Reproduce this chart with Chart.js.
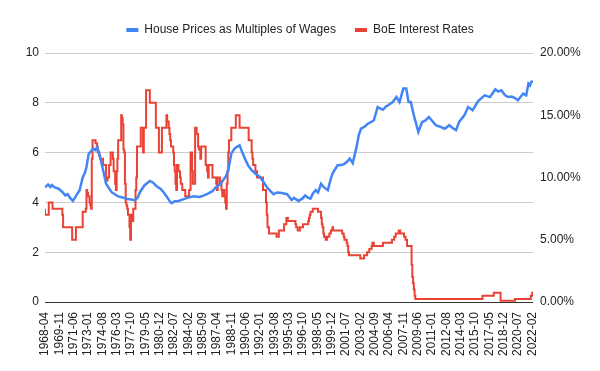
<!DOCTYPE html>
<html>
<head>
<meta charset="utf-8">
<script src="https://cdn.jsdelivr.net/npm/chart.js@4.4.1/dist/chart.umd.min.js"></script>
<style>
    body { margin: 0; background: #fff; }
</style>
</head>
<body>
<canvas id="grafico" width="600" height="371"></canvas>
<script>
// Tick labels shown on the x axis (every 19th month)
const tickLabels = ['1968-04', '1969-11', '1971-06', '1973-01', '1974-08', '1976-03', '1977-10',
    '1979-05', '1980-12', '1982-07', '1984-02', '1985-09', '1987-04', '1988-11', '1990-06',
    '1992-01', '1993-08', '1995-03', '1996-10', '1998-05', '1999-12', '2001-07', '2003-02',
    '2004-09', '2006-04', '2007-11', '2009-06', '2011-01', '2012-08', '2014-03', '2015-10',
    '2017-05', '2018-12', '2020-07', '2022-02'];
const firstMonth = '1968-04';
const lastMonth = '2022-03';

// House prices as multiples of wages
const priceDates = ['1968-04', '1968-08', '1968-11', '1969-01', '1969-05', '1969-10', '1970-02', '1970-07',
    '1970-10', '1971-01', '1971-05', '1971-08', '1971-10', '1972-02', '1972-06', '1972-09', '1972-11',
    '1973-02', '1973-05', '1973-08', '1973-11', '1974-01', '1974-03', '1974-05', '1974-09', '1975-01',
    '1975-08', '1976-01', '1976-05', '1976-11', '1977-04', '1977-10', '1978-03', '1978-07', '1978-10',
    '1979-04', '1979-11', '1980-03', '1980-08', '1981-01', '1981-05', '1981-09', '1982-02', '1982-04',
    '1982-08', '1983-01', '1983-07', '1984-02', '1984-09', '1985-05', '1985-11', '1986-04', '1986-10',
    '1987-03', '1987-08', '1987-12', '1988-04', '1988-07', '1988-11', '1989-03', '1989-06', '1989-10',
    '1990-01', '1990-05', '1990-09', '1991-02', '1991-07', '1992-01', '1992-05', '1992-10', '1993-03',
    '1993-07', '1993-12', '1994-06', '1995-01', '1995-07', '1995-10', '1996-04', '1996-09', '1997-01',
    '1997-04', '1997-08', '1997-11', '1998-03', '1998-06', '1998-10', '1999-02', '1999-07', '1999-10',
    '2000-01', '2000-04', '2000-08', '2001-01', '2001-05', '2001-09', '2001-12', '2002-04', '2002-09',
    '2002-12', '2003-03', '2003-08', '2003-12', '2004-04', '2004-08', '2005-01', '2005-08', '2005-12',
    '2006-03', '2006-09', '2007-02', '2007-06', '2007-11', '2008-03', '2008-05', '2008-06', '2008-09',
    '2009-01', '2009-07', '2009-12', '2010-04', '2010-09', '2011-02', '2011-06', '2011-11', '2012-06',
    '2012-12', '2013-04', '2013-09', '2014-01', '2014-08', '2015-01', '2015-07', '2016-02', '2016-07',
    '2016-11', '2017-06', '2018-01', '2018-05', '2018-09', '2019-02', '2019-06', '2019-11', '2020-03',
    '2020-07', '2021-02', '2021-06', '2021-09', '2021-11', '2022-01', '2022-03'];
const priceRatios = [4.60, 4.72, 4.62, 4.70, 4.60, 4.55, 4.45, 4.28,
    4.33, 4.19, 4.06, 4.20, 4.30, 4.50, 5.00, 5.20, 5.42,
    5.96, 6.05, 6.16, 6.10, 6.22, 6.05, 5.82, 5.30, 4.75,
    4.42, 4.32, 4.24, 4.20, 4.15, 4.12, 4.08, 4.20, 4.42,
    4.69, 4.86, 4.80, 4.65, 4.55, 4.42, 4.25, 4.02, 3.97,
    4.05, 4.06, 4.12, 4.19, 4.25, 4.22, 4.28, 4.35, 4.45,
    4.62, 4.72, 4.89, 5.05, 5.29, 5.96, 6.15, 6.22, 6.29,
    6.05, 5.76, 5.50, 5.29, 5.15, 5.02, 4.85, 4.62, 4.45,
    4.33, 4.40, 4.38, 4.33, 4.10, 4.18, 4.06, 4.15, 4.28,
    4.20, 4.15, 4.35, 4.49, 4.40, 4.75, 4.60, 4.49, 4.85,
    5.15, 5.30, 5.49, 5.50, 5.55, 5.65, 5.76, 5.58, 6.22,
    6.70, 6.96, 7.05, 7.16, 7.22, 7.30, 7.83, 7.72, 7.85,
    7.90, 8.03, 8.23, 8.03, 8.57, 8.57, 8.20, 8.03, 8.03,
    7.50, 6.83, 7.23, 7.28, 7.43, 7.25, 7.10, 7.05, 6.96,
    7.10, 7.00, 6.90, 7.23, 7.50, 7.83, 7.70, 8.06, 8.20,
    8.30, 8.23, 8.54, 8.45, 8.50, 8.30, 8.23, 8.25, 8.19,
    8.10, 8.37, 8.30, 8.77, 8.70, 8.85, 8.84];

// BoE interest rate (%), month where each new rate starts
const rateDates = ['1968-04', '1968-09', '1969-02', '1970-03', '1970-04', '1971-04', '1971-09', '1972-06',
    '1972-10', '1972-11', '1972-12', '1973-01', '1973-03', '1973-04', '1973-05', '1973-06', '1973-07',
    '1973-11', '1974-01', '1974-02', '1974-04', '1974-05', '1974-09', '1975-01', '1975-02', '1975-03',
    '1975-05', '1975-07', '1975-10', '1975-11', '1976-01', '1976-02', '1976-03', '1976-04', '1976-05',
    '1976-09', '1976-10', '1976-11', '1976-12', '1977-01', '1977-02', '1977-03', '1977-04', '1977-05',
    '1977-06', '1977-08', '1977-09', '1977-10', '1977-11', '1978-01', '1978-04', '1978-05', '1978-06',
    '1978-11', '1979-02', '1979-03', '1979-06', '1979-11', '1980-07', '1980-11', '1981-03', '1981-09',
    '1981-10', '1981-12', '1982-01', '1982-02', '1982-03', '1982-06', '1982-07', '1982-08', '1982-09',
    '1982-10', '1982-11', '1983-01', '1983-03', '1983-04', '1983-06', '1983-10', '1984-03', '1984-05',
    '1984-07', '1984-08', '1984-11', '1985-01', '1985-03', '1985-04', '1985-06', '1985-07', '1986-01',
    '1986-03', '1986-04', '1986-05', '1986-10', '1987-03', '1987-04', '1987-05', '1987-08', '1987-10',
    '1987-11', '1987-12', '1988-02', '1988-03', '1988-04', '1988-05', '1988-06', '1988-07', '1988-08',
    '1988-11', '1989-05', '1989-10', '1990-10', '1991-02', '1991-03', '1991-04', '1991-07', '1991-09',
    '1992-05', '1992-09', '1992-10', '1992-11', '1993-01', '1993-11', '1994-02', '1994-09', '1994-12',
    '1995-02', '1995-12', '1996-01', '1996-03', '1996-06', '1996-10', '1997-05', '1997-06', '1997-07',
    '1997-08', '1997-11', '1998-06', '1998-10', '1998-11', '1998-12', '1999-01', '1999-02', '1999-04',
    '1999-06', '1999-09', '1999-11', '2000-01', '2000-02', '2001-02', '2001-04', '2001-05', '2001-08',
    '2001-09', '2001-10', '2001-11', '2003-02', '2003-07', '2003-11', '2004-02', '2004-05', '2004-06',
    '2004-08', '2005-08', '2006-08', '2006-11', '2007-01', '2007-05', '2007-07', '2007-12', '2008-02',
    '2008-04', '2008-10', '2008-11', '2008-12', '2009-01', '2009-02', '2009-03', '2016-08', '2017-11',
    '2018-08', '2020-03', '2021-12', '2022-02', '2022-03'];
const rateValues = [7.5, 7.0, 8.0, 7.5, 7.0, 6.0, 5.0, 6.0,
    7.25, 7.5, 9.0, 8.75, 8.5, 8.0, 7.75, 7.5, 11.5,
    13.0, 12.75, 12.5, 12.0, 11.75, 11.5, 11.0, 10.0, 9.75,
    10.0, 11.0, 12.0, 11.5, 10.5, 9.5, 9.0, 10.5, 11.5,
    13.0, 15.0, 14.75, 14.25, 12.25, 12.0, 9.5, 8.0, 7.75,
    7.5, 7.0, 6.0, 5.0, 7.0, 6.5, 7.5, 9.0, 10.0,
    12.5, 14.0, 12.0, 14.0, 17.0, 16.0, 14.0, 12.0, 14.0,
    15.0, 14.5, 14.0, 13.5, 13.0, 12.5, 12.0, 11.0, 10.5,
    9.5, 9.0, 11.0, 10.5, 10.0, 9.5, 9.0, 8.5, 9.0,
    12.0, 10.5, 9.5, 14.0, 13.5, 12.5, 12.25, 11.5, 12.5,
    11.0, 10.5, 10.0, 11.0, 10.0, 9.5, 9.0, 10.0, 9.5,
    9.0, 8.5, 9.0, 8.5, 8.0, 7.5, 9.5, 10.5, 12.0,
    13.0, 14.0, 15.0, 14.0, 13.0, 12.0, 11.5, 11.0, 10.5,
    10.0, 9.0, 8.0, 7.0, 6.0, 5.5, 5.25, 5.75, 6.25,
    6.75, 6.5, 6.25, 6.0, 5.75, 6.0, 6.25, 6.5, 6.75,
    7.0, 7.25, 7.5, 7.25, 6.75, 6.25, 6.0, 5.5, 5.25,
    5.0, 5.25, 5.5, 5.75, 6.0, 5.75, 5.5, 5.25, 5.0,
    4.75, 4.5, 4.0, 3.75, 3.5, 3.75, 4.0, 4.25, 4.5,
    4.75, 4.5, 4.75, 5.0, 5.25, 5.5, 5.75, 5.5, 5.25,
    5.0, 4.5, 3.0, 2.0, 1.5, 1.0, 0.5, 0.25, 0.5,
    0.75, 0.1, 0.25, 0.5, 0.75];

// Month number counted from the first month of the data
function monthIndex(d) {
    const [y, m] = d.split('-').map(Number);
    const [y0, m0] = firstMonth.split('-').map(Number);
    return (y - y0) * 12 + (m - m0);
}

function toPoints(dates, values) {
    return dates.map((d, i) => ({ x: monthIndex(d), y: values[i] }));
}

const fonte = { family: 'Arial, "Liberation Sans", sans-serif', size: 12 };
const lastIndex = monthIndex(lastMonth);

// Extra space under the legend
const legendGap = {
    id: 'legendGap',
    beforeInit(chart) {
        const fit = chart.legend.fit;
        chart.legend.fit = function () {
            fit.bind(chart.legend)();
            this.height += 7;
        };
    }
};

new Chart(document.getElementById('grafico'), {
    type: 'line',
    data: {
        datasets: [{
            label: 'House Prices as Multiples of Wages',
            data: toPoints(priceDates, priceRatios),
            borderColor: '#4285F4',
            backgroundColor: '#4285F4',
            borderWidth: 2.5,
            yAxisID: 'y'
        }, {
            label: 'BoE Interest Rates',
            data: toPoints(rateDates, rateValues),
            borderColor: '#EA4335',
            backgroundColor: '#EA4335',
            borderWidth: 2,
            stepped: 'after',
            yAxisID: 'y1'
        }]
    },
    options: {
        responsive: false,
        animation: false,
        devicePixelRatio: 1,
        layout: { padding: { top: 5, left: 0, right: 0, bottom: 0 } },
        elements: { point: { radius: 0 }, line: { tension: 0 } },
        plugins: {
            tooltip: { enabled: false },
            legend: {
                position: 'top',
                labels: {
                    font: fonte,
                    color: '#222',
                    boxWidth: 12,
                    boxHeight: 4,
                    padding: 19,
                    generateLabels: (chart) => Chart.defaults.plugins.legend.labels.generateLabels(chart)
                        .map(l => Object.assign(l, { lineWidth: 0 }))
                }
            }
        },
        scales: {
            x: {
                type: 'linear',
                min: 0,
                max: lastIndex,
                grid: { display: false },
                border: { display: false },
                afterFit: (s) => { s.height = 69; },
                ticks: {
                    stepSize: 19,
                    includeBounds: false,
                    autoSkip: false,
                    maxRotation: 90,
                    minRotation: 90,
                    padding: 2,
                    font: fonte,
                    color: '#222',
                    callback: (v) => tickLabels[Math.round(v / 19)]
                }
            },
            y: {
                position: 'left',
                min: 0,
                max: 10,
                afterFit: (s) => { s.width = 45; },
                grid: {
                    drawTicks: false,
                    color: (ctx) => ctx.tick && ctx.tick.value === 0 ? '#333' : '#ccc'
                },
                border: { display: false },
                ticks: { stepSize: 2, padding: 6, font: fonte, color: '#222' }
            },
            y1: {
                position: 'right',
                min: 0,
                max: 20,
                afterFit: (s) => { s.width = 67; },
                grid: { display: false, drawTicks: false },
                border: { display: false },
                ticks: {
                    stepSize: 5,
                    padding: 7,
                    font: fonte,
                    color: '#222',
                    callback: (v) => v.toFixed(2) + '%'
                }
            }
        }
    },
    plugins: [legendGap]
});
</script>
</body>
</html>
